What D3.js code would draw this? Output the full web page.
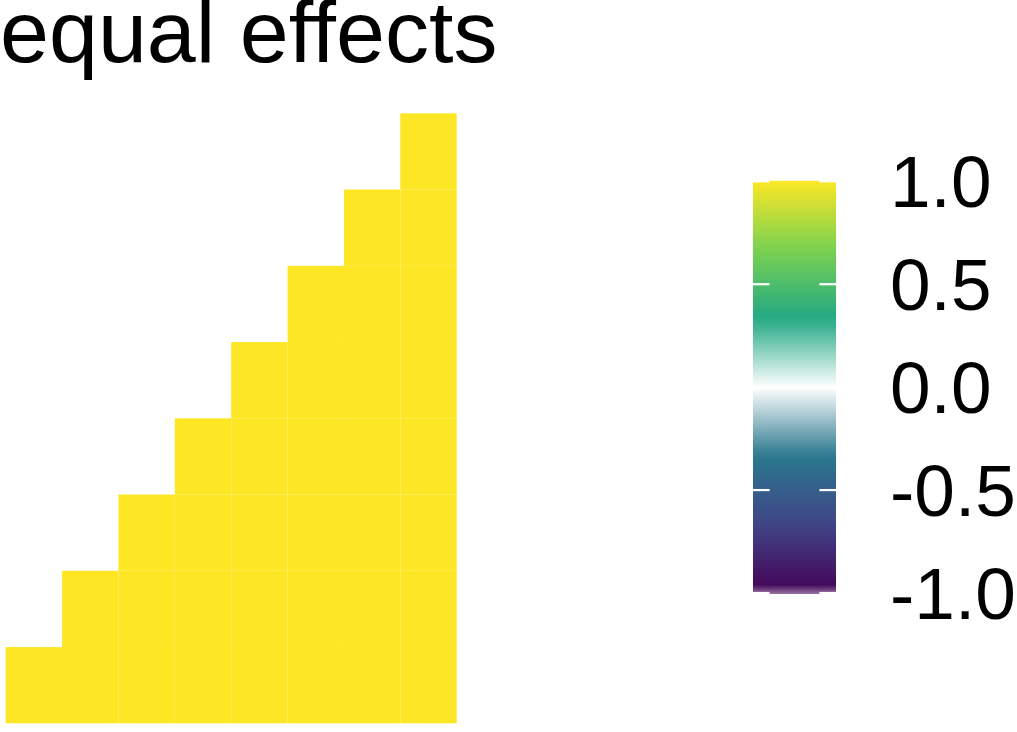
<!DOCTYPE html>
<html>
<head>
<meta charset="utf-8">
<script src="https://cdn.jsdelivr.net/npm/d3@7"></script>
<style>
  body { margin: 0; background: #fff; }
  svg { display: block; font-family: "Liberation Sans", Arial, sans-serif; }
</style>
</head>
<body>
<div id="chart"></div>
<script>
// variables of the matrix (no axis labels are drawn)
var variables = ["V1", "V2", "V3", "V4", "V5", "V6", "V7", "V8"];

// one row per y variable (bottom row first), null = not drawn
var effects = [
    [1, 1, 1, 1, 1, 1, 1, 1],
    [null, 1, 1, 1, 1, 1, 1, 1],
    [null, null, 1, 1, 1, 1, 1, 1],
    [null, null, null, 1, 1, 1, 1, 1],
    [null, null, null, null, 1, 1, 1, 1],
    [null, null, null, null, null, 1, 1, 1],
    [null, null, null, null, null, null, 1, 1],
    [null, null, null, null, null, null, null, 1]
];

var legendBreaks = [1.0, 0.5, 0.0, -0.5, -1.0];
var legendLabels = ["1.0", "0.5", "0.0", "-0.5", "-1.0"];

var width = 1017, height = 732;

var svg = d3.select("#chart")
    .append("svg")
    .attr("width", width)
    .attr("height", height);

// viridis(6) with white put in the middle
var stops = [-1, -2/3, -1/3, 0, 1/3, 2/3, 1];
var colours = ["#440154", "#414487", "#2A788E", "#FFFFFF", "#22A884", "#7AD151", "#FDE725"];
var color = d3.scaleLinear().domain(stops).range(colours).interpolate(d3.interpolateRgb);

var x = d3.scaleBand().domain(variables).range([5.7, 456.7]).padding(0);
// y goes up: first variable at the bottom
var y = d3.scaleBand().domain(variables.slice().reverse()).range([113.3, 723.3]).padding(0);

var cells = [];
effects.forEach(function(row, j) {
    row.forEach(function(v, i) {
        if (v !== null) cells.push({x: variables[i], y: variables[j], value: v});
    });
});

svg.append("g")
    .selectAll("rect")
    .data(cells)
    .enter()
    .append("rect")
    .attr("x", function(d) { return x(d.x); })
    .attr("y", function(d) { return y(d.y); })
    .attr("width", x.bandwidth())
    .attr("height", y.bandwidth())
    .attr("fill", function(d) { return color(d.value); });

// title
svg.append("text")
    .attr("x", 0)
    .attr("y", 62)
    .attr("font-size", 88)
    .attr("fill", "#000")
    .text("equal effects");

// colour bar
var ly = d3.scaleLinear().domain([-1, 1]).range([593, 181.3]);
var barX = 753, barW = 83;

var defs = svg.append("defs");
var grad = defs.append("linearGradient")
    .attr("id", "bar")
    .attr("x1", 0).attr("y1", 1).attr("x2", 0).attr("y2", 0);
d3.range(0, 41).forEach(function(k) {
    var v = -1 + k / 20;
    grad.append("stop")
        .attr("offset", (k / 40 * 100) + "%")
        .attr("stop-color", color(v));
});

var fade = defs.append("linearGradient")
    .attr("id", "fade")
    .attr("x1", 0).attr("y1", 0).attr("x2", 0).attr("y2", 1);
fade.append("stop").attr("offset", "0%").attr("stop-color", "#fff").attr("stop-opacity", 0);
fade.append("stop").attr("offset", "100%").attr("stop-color", "#fff").attr("stop-opacity", 0.45);

svg.append("rect")
    .attr("x", barX)
    .attr("y", ly(1) - 0.5)
    .attr("width", barW)
    .attr("height", ly(-1) - ly(1) + 1.5)
    .attr("fill", "url(#bar)");

// soft lower edge of the raster bar
svg.append("rect")
    .attr("x", barX)
    .attr("y", ly(-0.96))
    .attr("width", barW)
    .attr("height", ly(-1) - ly(-0.96) + 1)
    .attr("fill", "url(#fade)");

var tickLen = barW / 5;
var ticks = svg.append("g");
legendBreaks.forEach(function(b) {
    ticks.append("rect")
        .attr("x", barX).attr("y", ly(b) - 1.1)
        .attr("width", tickLen).attr("height", 2.2)
        .attr("fill", "#fff");
    ticks.append("rect")
        .attr("x", barX + barW - tickLen).attr("y", ly(b) - 1.1)
        .attr("width", tickLen).attr("height", 2.2)
        .attr("fill", "#fff");
});

svg.append("g")
    .selectAll("text")
    .data(legendBreaks)
    .enter()
    .append("text")
    .attr("x", 890)
    .attr("y", function(d) { return ly(d) + 26; })
    .attr("font-size", 73)
    .attr("fill", "#000")
    .text(function(d, i) { return legendLabels[i]; });
</script>
</body>
</html>
